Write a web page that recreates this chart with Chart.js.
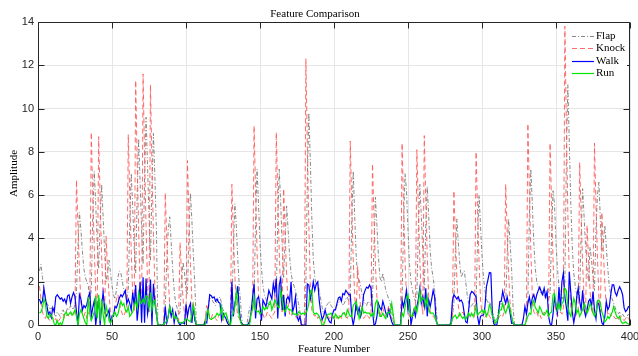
<!DOCTYPE html>
<html>
<head>
<meta charset="utf-8">
<script src="https://cdn.jsdelivr.net/npm/chart.js@4.4.1/dist/chart.umd.min.js"></script>
<style>
  html, body { margin: 0; padding: 0; background: #fff; }
  canvas { display: block; }
</style>
</head>
<body>
<canvas id="featureChart" width="638" height="356"></canvas>
<script>
const CHART_TITLE = "Feature Comparison";
const X_TITLE = "Feature Number";
const Y_TITLE = "Amplitude";
const SERIES_LABELS = ["Flap", "Knock", "Walk", "Run"];
const X_TICKS = [0, 50, 100, 150, 200, 250, 300, 350, 400];
const Y_TICKS = [0, 2, 4, 6, 8, 10, 12, 14];

const flapValues = [
  2.5, 2.8, 2.2, 1.6, 1.3, 1.0, 0.9, 0.7, 0.8, 0.6,
  0.5, 0.4, 0.6, 0.5, 0.4, 0.6, 0.7, 0.5, 0.6, 0.8,
  0.7, 0.9, 0.8, 0.7, 1.0, 1.5, 3.6, 5.2, 4.4, 3.4,
  2.6, 2.2, 2.0, 1.8, 1.2, 1.6, 5.0, 7.1, 5.6, 3.8,
  2.6, 4.8, 6.5, 5.0, 3.4, 2.0, 2.4, 3.0, 2.4, 1.8,
  1.4, 1.2, 1.6, 2.2, 2.5, 2.4, 2.0, 1.6, 1.4, 1.2,
  1.6, 4.8, 7.0, 5.4, 3.6, 2.4, 6.0, 8.6, 6.6, 4.4,
  2.8, 6.8, 9.6, 7.4, 5.0, 3.0, 6.4, 8.85, 6.8, 4.4,
  0, 0, 0, 0, 0, 0.8, 3.0, 4.4, 5.0, 3.8,
  2.6, 1.6, 1.0, 0.8, 0.5, 0.6, 2.0, 2.9, 2.4, 1.6,
  1.4, 4.4, 6.1, 4.8, 3.2, 1.8, 0, 0, 0, 0,
  0, 0, 0.2, 0.6, 0.9, 1.2, 1.3, 1.1, 1.0, 0.9,
  1.1, 1.2, 1.3, 1.0, 0.7, 0.6, 0.5, 0.3, 0, 0,
  0.8, 3.4, 5.6, 4.6, 3.0, 1.8, 0.9, 0, 0, 0,
  0, 0.4, 0.8, 0.9, 0.8, 1.0, 4.8, 7.2, 5.6, 3.8,
  2.6, 1.8, 1.4, 1.2, 1.0, 0.9, 1.0, 0.8, 0.9, 1.0,
  1.2, 5.0, 7.2, 5.6, 3.6, 2.2, 4.0, 5.5, 4.4, 3.2,
  2.4, 2.0, 1.8, 1.6, 1.3, 1.0, 0.6, 0, 0, 0,
  1.8, 6.8, 9.8, 7.6, 5.0, 3.0, 2.2, 1.8, 2.0, 1.6,
  1.2, 0.8, 0.5, 0.6, 0.9, 1.0, 1.1, 0.9, 0.8, 0.7,
  0.8, 0.9, 1.0, 1.2, 1.1, 0.9, 1.0, 1.2, 1.3, 1.1,
  1.4, 4.8, 7.1, 5.0, 3.2, 2.2, 2.1, 1.8, 1.4, 1.2,
  1.0, 0.9, 1.1, 1.0, 0.9, 1.2, 3.6, 5.9, 4.6, 3.2,
  2.2, 2.0, 2.4, 2.0, 1.6, 1.4, 1.2, 1.0, 0.6, 0.2,
  0, 0, 0, 0, 0, 1.0, 4.6, 7.0, 6.2, 4.4,
  2.8, 2.0, 1.6, 1.3, 1.1, 1.4, 4.4, 6.5, 5.0, 3.4,
  1.6, 4.6, 6.4, 5.0, 3.4, 2.6, 2.2, 1.6, 0.8, 0,
  0, 0, 0, 0, 0, 0, 0, 0, 0, 0.4,
  1.0, 3.2, 4.9, 3.8, 2.8, 2.2, 2.4, 2.5, 2.0, 1.4,
  1.0, 0.8, 0.9, 1.0, 0.8, 1.0, 4.0, 6.0, 4.6, 3.2,
  2.2, 1.6, 1.2, 1.0, 1.1, 0.9, 0.6, 0.4, 0.2, 0.3,
  0.6, 0.8, 1.0, 0.9, 0.8, 1.0, 3.2, 4.9, 3.8, 2.6,
  0.8, 0, 0, 0, 0, 0, 0, 0, 0, 0.3,
  1.2, 5.0, 7.2, 5.6, 3.8, 2.6, 2.0, 1.8, 1.6, 1.4,
  1.6, 1.4, 1.2, 1.3, 1.2, 1.4, 4.2, 6.2, 5.6, 3.8,
  2.6, 1.8, 1.4, 1.2, 1.4, 2.0, 7.6, 11.1, 8.4, 5.6,
  3.6, 2.4, 1.8, 1.4, 1.2, 1.4, 4.2, 6.3, 5.0, 3.6,
  2.6, 2.0, 3.6, 3.0, 2.2, 1.6, 4.4, 6.0, 6.6, 4.8,
  3.4, 3.8, 4.6, 3.6, 2.6, 1.8, 1.4, 1.2, 1.0, 0.8,
  0.6, 0.5, 0.6, 0.4, 0.5, 0.4, 0.3, 0.4, 0.5, 0.4,
];

const knockValues = [
  1.8, 1.2, 0.6, 0.4, 0.3, 0.5, 0.3, 0.2, 0.4, 0.3,
  0.2, 0.3, 0.1, 0.2, 0.3, 0.4, 0.5, 0.3, 0.4, 0.5,
  0.4, 0.6, 0.5, 0.4, 0.8, 6.7, 4.6, 2.5, 1.1, 0.5,
  0.4, 0.6, 0.3, 0.5, 0.7, 8.9, 6.0, 3.6, 1.5, 0.6,
  8.7, 5.8, 3.2, 1.4, 0.5, 4.1, 2.6, 1.4, 0.6, 0.4,
  0.5, 0.8, 1.2, 1.4, 1.0, 0.7, 0.5, 0.4, 0.6, 0.8,
  8.8, 6.0, 3.4, 1.4, 0.6, 11.3, 7.6, 4.4, 1.8, 0.6,
  11.6, 7.8, 4.6, 1.9, 0.6, 11.1, 7.4, 4.2, 1.6, 0.5,
  0, 0, 0, 0, 0, 6.1, 4.0, 2.2, 0.9, 0.4,
  0.3, 0.2, 0.4, 0.3, 0.2, 3.8, 2.4, 1.2, 0.5, 0.3,
  7.6, 5.0, 2.8, 1.1, 0.5, 0.3, 0, 0, 0, 0,
  0, 0, 0.3, 0.9, 0.6, 0.4, 0.3, 0.5, 0.4, 0.3,
  0.2, 0.4, 0.5, 0.3, 0.2, 0.3, 0.2, 0.1, 0, 0,
  6.5, 4.2, 2.3, 1.0, 0.4, 0.3, 0.2, 0, 0, 0,
  0, 0, 0.3, 0.5, 0.6, 9.2, 6.2, 3.4, 1.4, 0.6,
  0.4, 0.5, 0.3, 0.4, 0.6, 0.5, 0.4, 0.3, 0.5, 0.6,
  8.9, 6.0, 3.4, 1.4, 0.6, 6.3, 4.2, 2.3, 1.0, 0.5,
  0.4, 0.6, 0.5, 0.4, 0.3, 0.5, 0.2, 0, 0, 0,
  12.3, 8.2, 4.6, 1.9, 0.7, 0.5, 0.4, 0.5, 0.3, 0.4,
  0.3, 0.2, 0.1, 0.3, 0.5, 0.4, 0.3, 0.4, 0.5, 0.3,
  0.4, 0.3, 0.5, 0.4, 0.3, 0.5, 0.6, 0.4, 0.3, 0.5,
  8.5, 5.6, 3.0, 1.3, 0.6, 2.7, 1.6, 0.8, 0.4, 0.3,
  0.4, 0.5, 0.4, 0.3, 0.5, 7.45, 5.0, 2.8, 1.2, 0.5,
  0.4, 0.6, 0.8, 0.5, 0.4, 0.6, 0.9, 0.5, 0.3, 0.1,
  0, 0, 0, 0, 0, 8.4, 5.6, 3.0, 1.3, 0.6,
  0.4, 0.3, 0.5, 0.4, 0.6, 8.1, 5.4, 3.0, 1.2, 0.5,
  8.75, 5.8, 3.2, 1.3, 0.6, 0.5, 0.4, 0.3, 0.2, 0,
  0, 0, 0, 0, 0, 0, 0, 0, 0, 0.3,
  6.2, 4.1, 2.2, 0.9, 0.4, 0.5, 0.6, 0.4, 0.3, 0.4,
  0.3, 0.4, 0.5, 0.3, 0.4, 8.0, 5.3, 2.9, 1.2, 0.5,
  0.4, 0.3, 0.5, 0.6, 0.4, 0.3, 0.2, 0.1, 0.1, 0.2,
  0.3, 0.4, 0.5, 0.4, 0.6, 6.5, 4.3, 2.4, 1.0, 0.4,
  0.1, 0, 0, 0, 0, 0, 0, 0, 0, 0.2,
  9.3, 6.2, 3.4, 1.4, 0.6, 0.5, 0.6, 0.4, 0.5, 0.3,
  0.4, 0.6, 0.5, 0.4, 0.5, 8.4, 5.6, 3.0, 1.2, 0.6,
  0.4, 0.5, 0.6, 0.5, 0.8, 13.8, 9.2, 5.2, 2.2, 0.8,
  0.5, 0.6, 0.4, 0.5, 0.7, 7.5, 5.0, 2.8, 1.2, 0.5,
  4.6, 3.0, 1.6, 0.7, 0.5, 8.4, 5.6, 3.1, 1.3, 0.6,
  5.2, 3.4, 1.9, 0.8, 0.5, 0.6, 0.4, 0.5, 0.4, 0.3,
  0.3, 0.2, 0.3, 0.4, 0.3, 0.2, 0.3, 0.4, 0.3, 0.2,
];

const walkValues = [
  1.2, 1.0, 1.1, 1.7, 1.2, 0.9, 0.5, 0.6, 0.35, 0.8,
  0.6, 1.3, 1.4, 1.3, 1.2, 1.25, 1.1, 1.2, 1.0, 1.35,
  1.4, 1.0, 1.3, 1.5, 1.3, 0.6, 0.0, 1.4, 1.2, 0.7,
  0.9, 0.8, 0.95, 1.3, 1.5, 0.4, 0.8, 1.1, 0.0, 0.6,
  1.25, 0.0, 0.9, 1.5, 0.8, 0.4, 0.5, 0.7, 0.1, 0.4,
  0.4, 0.85, 0.8, 1.0, 1.25, 1.4, 1.3, 1.45, 1.6, 1.0,
  1.2, 1.0, 0.7, 1.5, 0.9, 1.85, 0.2, 0.9, 2.0, 0.1,
  2.2, 0.1, 2.15, 0.5, 0.9, 2.1, 0.0, 1.9, 1.0, 0.5,
  0.0, 0.0, 0.0, 0.0, 0.0, 0.85, 0.1, 0.4, 0.85, 0.4,
  0.7, 0.1, 0.55, 0.3, 0.1, 0.0, 0.1, 0.1, 0.05, 0.95,
  0.4, 0.8, 1.0, 0.1, 0.9, 0.2, 0.0, 0.0, 0.0, 0.0,
  0.0, 0.0, 0.15, 0.1, 0.7, 1.4, 1.35, 1.25, 1.3, 1.1,
  1.2, 1.05, 1.0, 0.25, 0.55, 0.4, 0.3, 0.1, 0.0, 0.0,
  2.0, 0.4, 1.0, 1.3, 1.8, 0.7, 0.15, 0.05, 0.0, 0.0,
  0.0, 0.05, 0.15, 0.6, 1.3, 1.9, 0.3, 1.2, 1.3, 0.9,
  0.2, 1.15, 1.0, 0.85, 1.2, 1.6, 1.4, 1.2, 1.9, 1.5,
  2.15, 0.3, 1.85, 2.15, 0.7, 1.4, 0.4, 1.2, 1.3, 1.1,
  2.0, 0.6, 0.85, 1.3, 0.4, 0.2, 0.4, 0.0, 0.0, 0.0,
  0.0, 1.9, 1.85, 1.2, 1.5, 2.0, 1.6, 1.9, 2.0, 1.15,
  0.6, 0.25, 0.4, 0.7, 0.4, 0.3, 0.15, 0.1, 0.5, 0.7,
  0.7, 1.0, 1.25, 1.3, 1.1, 1.45, 1.4, 1.6, 1.5, 1.4,
  1.4, 0.4, 0.0, 0.4, 1.0, 0.55, 0.8, 0.4, 0.7, 1.4,
  1.6, 1.75, 1.7, 1.85, 1.7, 0.7, 0.0, 0.05, 0.4, 1.0,
  0.8, 0.7, 1.1, 0.85, 0.55, 0.4, 0.7, 0.4, 0.15, 0.0,
  0.0, 0.0, 0.0, 0.0, 0.0, 1.15, 0.85, 1.2, 1.6, 0.7,
  1.2, 0.0, 0.4, 0.7, 0.4, 0.85, 1.2, 1.7, 1.0, 1.3,
  0.85, 1.7, 0.4, 1.15, 0.85, 1.2, 1.6, 1.3, 0.2, 0.0,
  0.0, 0.0, 0.0, 0.0, 0.0, 0.0, 0.0, 0.0, 0.1, 1.1,
  1.4, 1.3, 1.2, 1.3, 1.1, 1.15, 1.0, 0.55, 0.15, 0.1,
  0.7, 1.4, 1.55, 1.5, 1.4, 1.3, 0.4, 0.0, 0.4, 0.45,
  0.46, 0.85, 1.77, 2.08, 2.42, 2.4, 0.54, 0.05, 0.0, 0.0,
  0.39, 1.08, 1.1, 1.55, 1.23, 1.0, 1.3, 0.93, 0.54, 0.08,
  0.1, 0.0, 0.0, 0.0, 0.0, 0.0, 0.0, 0.3, 0.85, 0.5,
  1.0, 1.3, 0.85, 1.25, 1.4, 1.1, 1.4, 1.6, 1.75, 1.55,
  1.4, 1.7, 1.3, 1.55, 0.4, 0.05, 0.0, 0.5, 1.3, 0.9,
  0.55, 1.75, 0.7, 2.0, 2.4, 1.3, 0.8, 0.2, 2.45, 1.5,
  0.6, 0.1, 0.5, 1.3, 1.7, 1.1, 0.7, 1.6, 0.7, 0.4,
  0.7, 1.1, 1.2, 0.85, 1.55, 0.7, 0.3, 1.08, 0.93, 0.5,
  0.1, 0.0, 0.4, 1.08, 0.7, 0.85, 1.4, 1.85, 1.85, 1.5,
  1.35, 1.6, 1.77, 1.62, 1.4, 0.8, 0.62, 0.7, 0.85, 0.85,
];

const runValues = [
  0.55, 0.6, 0.8, 1.2, 1.0, 0.4, 0.3, 0.5, 0.45, 0.3,
  0.05, 0.0, 0.2, 0.0, 0.1, 0.0, 0.2, 0.5, 0.6, 0.45,
  0.5, 0.6, 0.45, 0.55, 0.7, 0.4, 0.0, 0.5, 0.7, 0.5,
  0.3, 0.1, 0.0, 1.3, 0.5, 0.2, 0.4, 0.6, 1.35, 0.3,
  1.4, 0.2, 1.2, 0.5, 0.0, 0.9, 0.6, 0.2, 0.1, 0.3,
  0.5, 0.6, 0.4, 0.5, 0.8, 1.1, 0.9, 1.0, 0.7, 0.6,
  0.85, 0.4, 0.5, 0.6, 0.9, 1.1, 0.8, 1.5, 1.1, 1.0,
  1.2, 1.0, 1.35, 1.3, 0.8, 1.5, 0.7, 1.1, 1.15, 0.5,
  0.0, 0.0, 0.0, 0.0, 0.05, 0.1, 0.2, 0.4, 0.85, 0.6,
  0.55, 0.3, 0.4, 0.3, 0.15, 0.1, 0.1, 0.1, 0.2, 0.3,
  0.25, 0.2, 0.15, 0.5, 0.93, 0.4, 0.0, 0.0, 0.0, 0.0,
  0.0, 0.0, 0.0, 0.55, 0.7, 0.3, 0.25, 0.3, 0.35, 0.4,
  0.55, 0.45, 0.5, 0.85, 0.3, 0.5, 0.55, 0.3, 0.1, 0.0,
  0.4, 0.55, 0.85, 1.55, 1.0, 0.4, 0.1, 0.0, 0.0, 0.0,
  0.0, 0.0, 0.0, 0.55, 0.7, 1.3, 0.7, 0.6, 0.65, 0.5,
  0.6, 0.85, 0.7, 0.8, 0.75, 1.0, 1.1, 0.7, 0.9, 1.15,
  1.0, 0.85, 0.8, 1.6, 1.2, 0.7, 0.6, 0.9, 0.75, 0.7,
  0.7, 0.55, 0.5, 0.5, 0.45, 0.6, 0.55, 0.5, 0.55, 0.5,
  0.55, 0.7, 1.0, 1.6, 1.6, 0.6, 0.5, 0.55, 0.5, 0.4,
  0.2, 0.0, 0.0, 0.2, 0.4, 0.5, 0.5, 0.55, 0.4, 0.3,
  0.5, 0.4, 0.3, 0.4, 0.4, 0.55, 0.55, 0.4, 0.7, 0.55,
  0.4, 0.4, 0.9, 1.0, 1.08, 0.7, 0.3, 0.55, 0.85, 0.55,
  0.6, 0.55, 0.55, 0.55, 0.4, 0.55, 0.4, 1.0, 1.15, 0.85,
  0.4, 0.4, 0.55, 0.4, 0.3, 0.55, 0.6, 0.55, 1.0, 0.5,
  0.0, 0.0, 0.0, 0.0, 0.0, 0.55, 0.4, 0.8, 1.25, 1.4,
  0.7, 0.4, 0.4, 0.7, 0.85, 0.6, 1.0, 1.55, 1.1, 1.25,
  1.2, 0.85, 1.3, 0.7, 0.55, 0.55, 0.55, 0.4, 0.2, 0.0,
  0.0, 0.0, 0.0, 0.0, 0.0, 0.0, 0.0, 0.0, 0.0, 0.3,
  0.4, 0.45, 0.3, 0.4, 0.55, 0.4, 0.3, 0.4, 0.25, 0.4,
  0.55, 0.4, 0.55, 0.4, 0.55, 0.85, 0.45, 0.55, 0.6, 0.7,
  0.55, 0.7, 0.4, 0.55, 0.93, 0.77, 0.4, 0.3, 0.08, 0.15,
  0.4, 0.7, 0.7, 1.0, 0.7, 0.55, 0.77, 1.0, 0.7, 0.4,
  0.1, 0.0, 0.0, 0.0, 0.0, 0.0, 0.0, 0.0, 0.0, 0.2,
  0.4, 0.55, 0.5, 1.0, 1.15, 0.8, 0.7, 0.55, 0.85, 0.7,
  0.5, 0.45, 0.55, 0.7, 0.4, 0.55, 0.6, 1.4, 1.47, 1.0,
  0.7, 1.0, 0.7, 1.0, 1.08, 1.7, 1.6, 0.85, 0.55, 0.4,
  0.85, 1.23, 1.0, 0.55, 0.7, 0.4, 0.55, 0.7, 1.0, 0.85,
  0.55, 0.7, 1.0, 0.85, 0.55, 0.4, 0.55, 1.08, 1.15, 1.0,
  0.6, 0.4, 0.15, 0.23, 0.4, 0.3, 0.45, 0.6, 0.85, 0.6,
  0.4, 0.3, 0.4, 0.15, 0.08, 0.1, 0.15, 0.08, 0.05, 0.0,
];

const featureNumbers = flapValues.map((_, i) => i + 1);

const SERIF = '"Liberation Serif", "Times New Roman", "DejaVu Serif", serif';
const SANS = '"Liberation Sans", Arial, Helvetica, sans-serif';
const AXIS_COLOR = "#262626";
const GRID_COLOR = "#e6e6e6";
const TICK_LENGTH = 6;

function toPoints(values) {
  return values.map((y, i) => ({ x: featureNumbers[i], y }));
}

// frame round the plot area with inward ticks on all four sides
const axisBoxPlugin = {
  id: "axisBox",
  afterDatasetsDraw(chart) {
    const { ctx, chartArea: area, scales } = chart;
    const left = Math.round(area.left) + 0.5;
    const right = Math.round(area.right) - 0.5;
    const top = Math.round(area.top) + 0.5;
    const bottom = Math.round(area.bottom) + 0.5;

    ctx.save();
    ctx.strokeStyle = AXIS_COLOR;
    ctx.lineWidth = 1;
    ctx.beginPath();
    ctx.rect(left, top, right - left, bottom - top);

    X_TICKS.forEach((value) => {
      const x = Math.round(scales.x.getPixelForValue(value)) + 0.5;
      ctx.moveTo(x, bottom);
      ctx.lineTo(x, bottom - TICK_LENGTH);
      ctx.moveTo(x, top);
      ctx.lineTo(x, top + TICK_LENGTH);
    });
    Y_TICKS.forEach((value) => {
      const y = Math.round(scales.y.getPixelForValue(value)) + 0.5;
      ctx.moveTo(left, y);
      ctx.lineTo(left + TICK_LENGTH, y);
      ctx.moveTo(right, y);
      ctx.lineTo(right - TICK_LENGTH, y);
    });
    ctx.stroke();
    ctx.restore();
  },
};

// legend in the top right corner of the plot area
const insideLegendPlugin = {
  id: "insideLegend",
  afterDraw(chart) {
    const { ctx, chartArea: area } = chart;
    const lineStart = area.right - 58;
    const lineEnd = area.right - 36;
    const rowGap = 12.3;

    ctx.save();
    ctx.fillStyle = "#fff";
    ctx.fillRect(area.right - 60, area.top + 6, 57, 52);
    ctx.font = `11px ${SERIF}`;
    ctx.textBaseline = "middle";
    ctx.textAlign = "left";

    SERIES_LABELS.forEach((label, i) => {
      const dataset = chart.data.datasets.find((d) => d.label === label);
      const y = Math.round(area.top + 14 + i * rowGap) + 0.5;

      ctx.strokeStyle = dataset.borderColor;
      ctx.lineWidth = dataset.borderWidth;
      ctx.setLineDash(dataset.borderDash || []);
      ctx.beginPath();
      ctx.moveTo(lineStart, y);
      ctx.lineTo(lineEnd, y);
      ctx.stroke();

      ctx.fillStyle = "#000";
      ctx.fillText(label, lineEnd + 2, y);
    });
    ctx.restore();
  },
};

const canvas = document.getElementById("featureChart");

new Chart(canvas, {
  type: "line",
  data: {
    datasets: [
      {
        label: SERIES_LABELS[0],
        data: toPoints(flapValues),
        borderColor: "#7a7a7a",
        borderWidth: 0.9,
        borderDash: [4, 2, 1, 2],
        order: 4,
      },
      {
        label: SERIES_LABELS[1],
        data: toPoints(knockValues),
        borderColor: "#ff5a5a",
        borderWidth: 0.9,
        borderDash: [5, 3],
        order: 3,
      },
      {
        label: SERIES_LABELS[2],
        data: toPoints(walkValues),
        borderColor: "#0000ff",
        borderWidth: 1.2,
        order: 2,
      },
      {
        label: SERIES_LABELS[3],
        data: toPoints(runValues),
        borderColor: "#00e600",
        borderWidth: 1.2,
        order: 1,
      },
    ],
  },
  options: {
    responsive: false,
    animation: false,
    parsing: false,
    elements: {
      point: { radius: 0, hoverRadius: 0 },
      line: { tension: 0, fill: false },
    },
    layout: { padding: { left: 0, right: 8, top: 0, bottom: 0 } },
    plugins: {
      legend: { display: false },
      tooltip: { enabled: false },
      title: {
        display: true,
        text: CHART_TITLE,
        color: "#000",
        font: { family: SERIF, size: 11, weight: "normal", lineHeight: 1.2 },
        padding: { top: 7.2, bottom: 1.6 },
      },
    },
    scales: {
      x: {
        type: "linear",
        min: 0,
        max: 400,
        afterBuildTicks(scale) {
          scale.ticks = X_TICKS.map((value) => ({ value }));
        },
        afterFit(scale) {
          scale.height = 31;
          scale.paddingLeft = 0;
          scale.paddingRight = 0;
        },
        ticks: {
          padding: 5,
          maxRotation: 0,
          autoSkip: false,
          color: AXIS_COLOR,
          font: { family: SANS, size: 11 },
        },
        grid: { color: GRID_COLOR, drawTicks: false },
        border: { display: false },
        title: {
          display: true,
          text: X_TITLE,
          color: "#000",
          font: { family: SERIF, size: 11, lineHeight: 1.2 },
          padding: { top: 0, bottom: 0 },
        },
      },
      y: {
        type: "linear",
        min: 0,
        max: 14,
        afterBuildTicks(scale) {
          scale.ticks = Y_TICKS.map((value) => ({ value }));
        },
        afterFit(scale) {
          scale.width = 38;
        },
        ticks: {
          padding: 4,
          autoSkip: false,
          color: AXIS_COLOR,
          font: { family: SANS, size: 11 },
        },
        grid: { color: GRID_COLOR, drawTicks: false },
        border: { display: false },
        title: {
          display: true,
          text: Y_TITLE,
          color: "#000",
          font: { family: SERIF, size: 11, lineHeight: 1.2 },
          padding: { top: 8, bottom: 0 },
        },
      },
    },
  },
  plugins: [axisBoxPlugin, insideLegendPlugin],
});
</script>
</body>
</html>
